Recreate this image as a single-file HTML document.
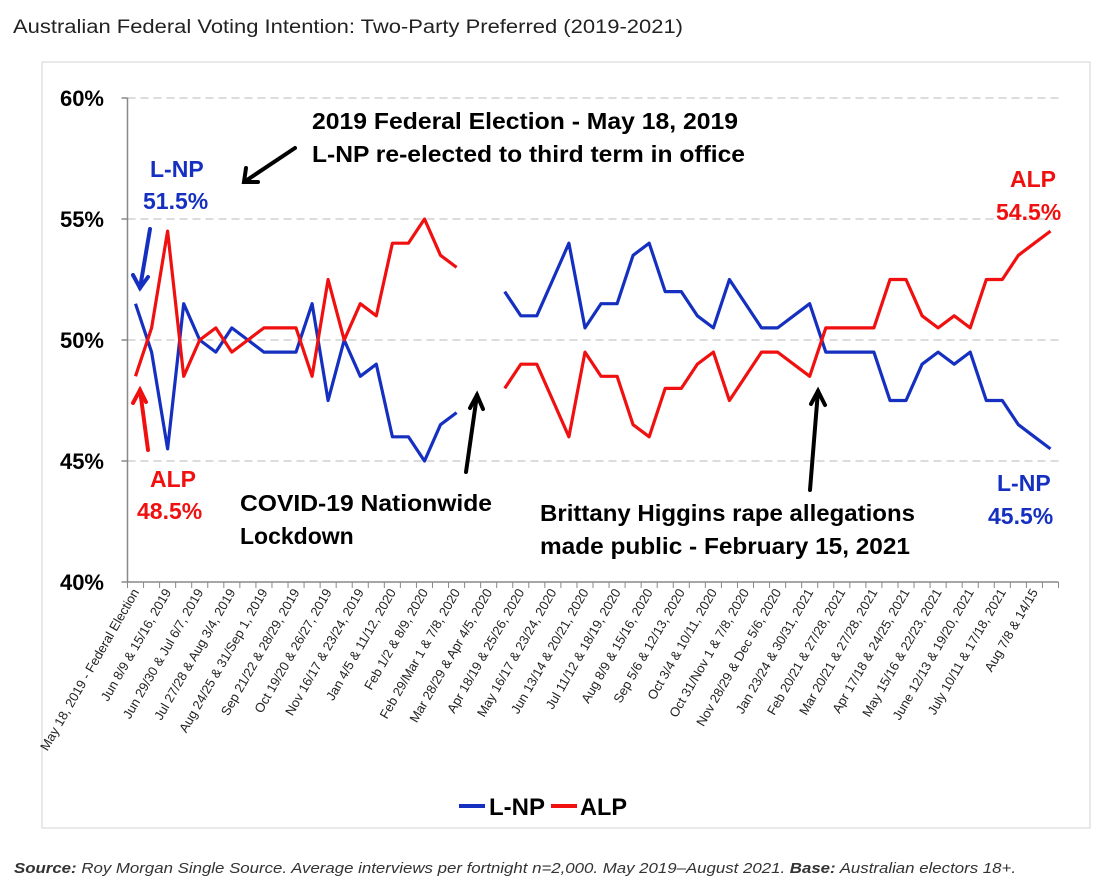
<!DOCTYPE html>
<html><head><meta charset="utf-8"><style>
body{margin:0;background:#fff;width:1098px;height:892px;overflow:hidden;font-family:"Liberation Sans",sans-serif;}
svg{position:absolute;left:0;top:0}
</style></head><body>
<svg id="chart" width="1098" height="892" viewBox="0 0 1098 892" xmlns="http://www.w3.org/2000/svg">
<text x="13" y="33" font-size="19" fill="#222" textLength="670" lengthAdjust="spacingAndGlyphs">Australian Federal Voting Intention: Two-Party Preferred (2019-2021)</text>
<rect x="42" y="62" width="1048" height="766" fill="#fff" stroke="#e2e2e2" stroke-width="1.5"/>
<g id="grid"></g><g id="axes"></g><g id="xlabels"></g><g id="series"></g>
<g id="annotations" font-weight="bold" font-size="23">
<text x="312" y="129" fill="#000" textLength="426" lengthAdjust="spacingAndGlyphs">2019 Federal Election - May 18, 2019</text>
<text x="312" y="162" fill="#000" textLength="433" lengthAdjust="spacingAndGlyphs">L-NP re-elected to third term in office</text>
<text x="150" y="177" fill="#1530c0">L-NP</text>
<text x="143" y="209" fill="#1530c0">51.5%</text>
<text x="150" y="487" fill="#f01010">ALP</text>
<text x="137" y="519" fill="#f01010">48.5%</text>
<text x="240" y="511" fill="#000" textLength="252" lengthAdjust="spacingAndGlyphs">COVID-19 Nationwide</text>
<text x="240" y="544" fill="#000">Lockdown</text>
<text x="540" y="521" fill="#000" textLength="375" lengthAdjust="spacingAndGlyphs">Brittany Higgins rape allegations</text>
<text x="540" y="554" fill="#000" textLength="370" lengthAdjust="spacingAndGlyphs">made public - February 15, 2021</text>
<text x="1010" y="187" fill="#f01010">ALP</text>
<text x="996" y="220" fill="#f01010">54.5%</text>
<text x="997" y="491" fill="#1530c0">L-NP</text>
<text x="988" y="524" fill="#1530c0">45.5%</text>
</g>
<g stroke-width="4" fill="none" stroke-linecap="round">
<g stroke="#000"><line x1="295" y1="148" x2="244" y2="182"/><polyline points="246,168 244,182 258,182"/></g>
<g stroke="#1530c0"><line x1="150" y1="229" x2="140" y2="288"/><polyline points="133,275 140,288 148,277"/></g>
<g stroke="#f01010"><line x1="148" y1="450" x2="140" y2="390"/><polyline points="133,403 140,390 146,402"/></g>
<g stroke="#000"><line x1="466" y1="472" x2="477" y2="395"/><polyline points="470,408 477,395 483,409"/></g>
<g stroke="#000"><line x1="810" y1="490" x2="818" y2="391"/><polyline points="811,404 818,391 825,405"/></g>
</g>
<g font-weight="bold" font-size="24">
<line x1="459" y1="806" x2="485" y2="806" stroke="#1530c0" stroke-width="4"/>
<text x="489" y="815" fill="#000" textLength="56" lengthAdjust="spacingAndGlyphs">L-NP</text>
<line x1="551" y1="806" x2="577" y2="806" stroke="#f01010" stroke-width="4"/>
<text x="580" y="815" fill="#000" textLength="47" lengthAdjust="spacingAndGlyphs">ALP</text>
</g>
<text x="14" y="873" font-size="15" font-style="italic" fill="#333" textLength="1002" lengthAdjust="spacingAndGlyphs"><tspan font-weight="bold">Source:</tspan> Roy Morgan Single Source. Average interviews per fortnight n=2,000. May 2019–August 2021. <tspan font-weight="bold">Base:</tspan> Australian electors 18+.</text>
</svg>
<script>
const categories = ["May 18, 2019 - Federal Election","","Jun 8/9 & 15/16, 2019","","Jun 29/30 & Jul 6/7, 2019","","Jul 27/28 & Aug 3/4, 2019","","Aug 24/25 & 31/Sep 1, 2019","","Sep 21/22 & 28/29, 2019","","Oct 19/20 & 26/27, 2019","","Nov 16/17 & 23/24, 2019","","Jan 4/5 & 11/12, 2020","","Feb 1/2 & 8/9, 2020","","Feb 29/Mar 1 & 7/8, 2020","","Mar 28/29 & Apr 4/5, 2020","","Apr 18/19 & 25/26, 2020","","May 16/17 & 23/24, 2020","","Jun 13/14 & 20/21, 2020","","Jul 11/12 & 18/19, 2020","","Aug 8/9 & 15/16, 2020","","Sep 5/6 & 12/13, 2020","","Oct 3/4 & 10/11, 2020","","Oct 31/Nov 1 & 7/8, 2020","","Nov 28/29 & Dec 5/6, 2020","","Jan 23/24 & 30/31, 2021","","Feb 20/21 & 27/28, 2021","","Mar 20/21 & 27/28, 2021","","Apr 17/18 & 24/25, 2021","","May 15/16 & 22/23, 2021","","June 12/13 & 19/20, 2021","","July 10/11 & 17/18, 2021","","Aug 7/8 & 14/15",""];
const lnpValues = [51.5,49.5,45.5,51.5,50,49.5,50.5,50,49.5,49.5,49.5,51.5,47.5,50,48.5,49,46,46,45,46.5,47,null,null,
 52,51,51,52.5,54,50.5,51.5,51.5,53.5,54,52,52,51,50.5,52.5,51.5,50.5,50.5,51,51.5,49.5,49.5,49.5,49.5,47.5,47.5,49,49.5,49,49.5,47.5,47.5,46.5,46,45.5];
const alpValues = [48.5,50.5,54.5,48.5,50,50.5,49.5,50,50.5,50.5,50.5,48.5,52.5,50,51.5,51,54,54,55,53.5,53,null,null,
 48,49,49,47.5,46,49.5,48.5,48.5,46.5,46,48,48,49,49.5,47.5,48.5,49.5,49.5,49,48.5,50.5,50.5,50.5,50.5,52.5,52.5,51,50.5,51,50.5,52.5,52.5,53.5,54,54.5];
const yTicks = [40,45,50,55,60];
const yTickLabels = ["40%","45%","50%","55%","60%"];

const NS="http://www.w3.org/2000/svg";
const L=127.5, R=1058.5, T=98, B=582, yMin=40, yMax=60;
const bw=(R-L)/categories.length;
const xs=i=>L+bw*(i+0.5);
const ys=v=>B-(v-yMin)/(yMax-yMin)*(B-T);
function mk(tag,attrs,parent){const e=document.createElementNS(NS,tag);for(const k in attrs)e.setAttribute(k,attrs[k]);parent.appendChild(e);return e;}
const grid=document.getElementById('grid'),axes=document.getElementById('axes'),xl=document.getElementById('xlabels'),ser=document.getElementById('series');
yTicks.forEach((t,i)=>{
  if(t!==yMin){const g=mk('line',{x1:L,x2:R,y1:ys(t),y2:ys(t),stroke:'#d0d0d0','stroke-width':1.5,'stroke-dasharray':'8,5'},grid);
  
  }
  const tk=mk('line',{x1:L-6,x2:L,y1:ys(t),y2:ys(t),stroke:'#888','stroke-width':1.5},axes);
  
  
  const lb=mk('text',{x:104,y:ys(t)+8,'text-anchor':'end','font-size':22,'font-weight':'bold',fill:'#000'},axes);
  lb.textContent=yTickLabels[i];
  
  
});
const ya=mk('line',{x1:L,x2:L,y1:T,y2:B,stroke:'#888','stroke-width':1.5},axes);


const xa=mk('line',{x1:L,x2:R,y1:B,y2:B,stroke:'#888','stroke-width':1.5},axes);


for(let i=0;i<=categories.length;i++){
  const tk=mk('line',{x1:L+bw*i,x2:L+bw*i,y1:B,y2:B+6,stroke:'#888','stroke-width':1},axes);
  
  
}
categories.forEach((c,i)=>{
  if(!c)return;
  const x=xs(i)+4,y=B+10;
  const t=mk('text',{x:x,y:y,'text-anchor':'end','font-size':13,fill:'#222',transform:`rotate(-60 ${x} ${y})`},xl);
  t.textContent=c;
  
  
});
function drawSeries(vals,color,name){
  let d='',pen=false;
  vals.forEach((v,i)=>{if(v==null){pen=false;return;}d+=(pen?'L':'M')+xs(i).toFixed(1)+','+ys(v).toFixed(1);pen=true;});
  const p=mk('path',{d:d,fill:'none',stroke:color,'stroke-width':3.2,'stroke-linejoin':'round'},ser);
  
  
}
drawSeries(lnpValues,'#1530c0','lnp-line');
drawSeries(alpValues,'#f01010','alp-line');
</script>
</body></html>
